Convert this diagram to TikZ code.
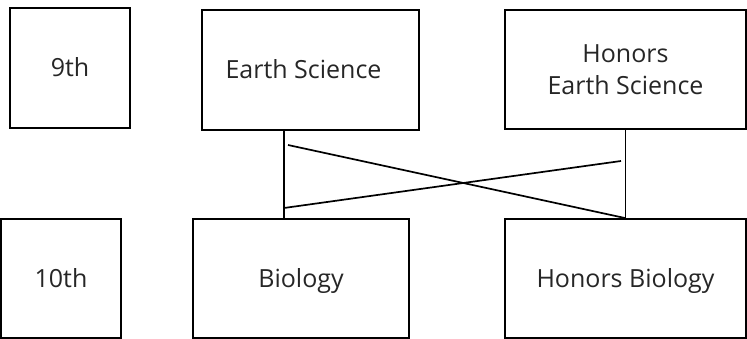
\documentclass[tikz,border=0pt]{standalone}
\usepackage{fontspec}
\setmainfont{Open Sans}
\begin{document}
\begin{tikzpicture}[x=1pt,y=-1pt,
  box/.style={draw=black,line width=1.7pt,inner sep=0pt,
    font=\fontsize{25}{32}\selectfont,text=black!85},
  one/.style={text height=18pt,text depth=0pt},
  link/.style={draw=black,line width=1.7pt}]
\useasboundingbox (0,0) rectangle (747,339);
\node[box,one,minimum width=120pt,minimum height=120pt] (g9) at (70,68) {9th};
\node[box,one,minimum width=217pt,minimum height=120pt] (es) at (310.5,70) {\hspace*{-14pt}Earth Science};
\node[box,align=center,minimum width=241pt,minimum height=119pt] (hes) at (625.5,69.5) {Honors\\Earth Science};
\node[box,one,minimum width=120pt,minimum height=119pt] (g10) at (61,278.5) {10th};
\node[box,one,minimum width=216pt,minimum height=119pt] (bio) at (301,278.5) {Biology};
\node[box,one,minimum width=241pt,minimum height=119pt] (hbio) at (625.5,278.5) {Honors Biology};
\coordinate (vx) at (284,0);
\coordinate (c1) at (288,145);
\coordinate (c2) at (284,208);
\coordinate (c3) at (621,161);
\draw[link] (vx |- es.south) -- (vx |- bio.north);
\draw[link] (hes.south) -- (hbio.north);
\draw[link] (c1) -- (hbio.north);
\draw[link] (c2) -- (c3);
\end{tikzpicture}
\end{document}
